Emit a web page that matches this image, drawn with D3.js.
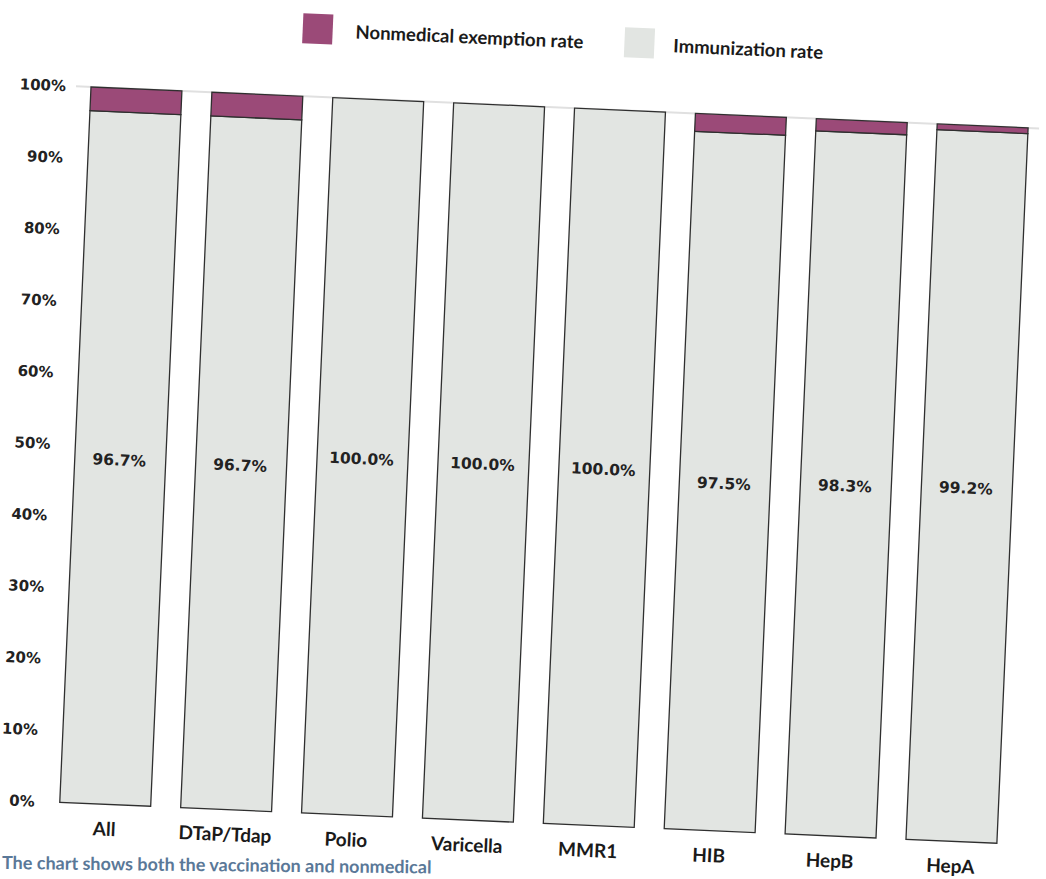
<!DOCTYPE html>
<html>
<head>
<meta charset="utf-8">
<script src="https://cdn.jsdelivr.net/npm/d3@7/dist/d3.min.js"></script>
<style>
  html, body { margin: 0; padding: 0; background: #ffffff; }
  svg { display: block; }
</style>
</head>
<body>
<svg id="chart" width="1046" height="879"></svg>
<script>
const categories = ["All", "DTaP/Tdap", "Polio", "Varicella", "MMR1", "HIB", "HepB", "HepA"];
const immunizationRate = [96.7, 96.7, 100.0, 100.0, 100.0, 97.5, 98.3, 99.2];
const exemptionRate = [3.3, 3.3, 0, 0, 0, 2.5, 1.7, 0.8];
const valueLabels = ["96.7%", "96.7%", "100.0%", "100.0%", "100.0%", "97.5%", "98.3%", "99.2%"];
const yTicks = [0, 10, 20, 30, 40, 50, 60, 70, 80, 90, 100];
const seriesNames = ["Nonmedical exemption rate", "Immunization rate"];
const captionText = "The chart shows both the vaccination and nonmedical";

const colors = { exemption: "#9b4a78", immunization: "#e2e5e2", stroke: "#2f2f2f" };

const svg = d3.select("#chart");
// scanned page is slightly rotated
const g = svg.append("g").attr("transform", "rotate(2.5, 91, 87)");

const x = d3.scaleBand().domain(categories).range([91, 1029]).paddingInner(0.248).paddingOuter(0);
const y = d3.scaleLinear().domain([0, 100]).range([803, 87]);

// faint gridline at 100%
g.append("line")
  .attr("x1", 76).attr("x2", 1040)
  .attr("y1", y(100)).attr("y2", y(100))
  .attr("stroke", "#e0e0e0").attr("stroke-width", 2);

// y axis labels
const yAxis = d3.axisLeft(y).tickValues(yTicks).tickSize(0).tickPadding(25).tickFormat(d => d + "%");
const ax = g.append("g").attr("transform", "translate(91,0)").call(yAxis);
ax.select(".domain").remove();
ax.selectAll("text")
  .attr("font-family", "DejaVu Sans, sans-serif")
  .attr("font-weight", "bold")
  .attr("font-size", 15)
  .attr("fill", "#222");

const data = categories.map((c, i) => ({ c, imm: immunizationRate[i], ex: exemptionRate[i], lab: valueLabels[i] }));

// immunization segments
g.selectAll("rect.imm").data(data).enter().append("rect")
  .attr("class", "imm")
  .attr("x", d => x(d.c))
  .attr("width", x.bandwidth())
  .attr("y", d => y(d.imm))
  .attr("height", d => y(0) - y(d.imm))
  .attr("fill", colors.immunization)
  .attr("stroke", colors.stroke)
  .attr("stroke-width", 1.3);

// exemption segments
g.selectAll("rect.ex").data(data).enter().append("rect")
  .attr("class", "ex")
  .attr("x", d => x(d.c))
  .attr("width", x.bandwidth())
  .attr("y", d => y(d.imm + d.ex))
  .attr("height", d => y(d.imm) - y(d.imm + d.ex))
  .attr("fill", colors.exemption)
  .attr("stroke", colors.stroke)
  .attr("stroke-width", 1.3);

// value labels
g.selectAll("text.val").data(data).enter().append("text")
  .attr("class", "val")
  .attr("x", d => x(d.c) + x.bandwidth() / 2 - 1)
  .attr("y", d => y(d.imm / 2) + 2)
  .attr("text-anchor", "middle")
  .attr("dominant-baseline", "central")
  .attr("font-family", "DejaVu Sans, sans-serif")
  .attr("font-weight", "bold")
  .attr("font-size", 15.5)
  .attr("fill", "#222")
  .text(d => d.lab);

// category labels
g.selectAll("text.cat").data(data).enter().append("text")
  .attr("class", "cat")
  .attr("x", d => x(d.c) + x.bandwidth() / 2)
  .attr("y", y(0) + 24)
  .attr("text-anchor", "middle")
  .attr("dominant-baseline", "central")
  .attr("font-family", "Lato, sans-serif")
  .attr("font-weight", "bold")
  .attr("font-size", 19)
  .attr("fill", "#1a1a1a")
  .text(d => d.c);

// legend
const legendItems = [
  { name: seriesNames[0], color: colors.exemption, sx: 300, tx: 353 },
  { name: seriesNames[1], color: colors.immunization, sx: 622, tx: 671 }
];
const lg = g.append("g");
legendItems.forEach(it => {
  lg.append("rect").attr("x", it.sx).attr("y", 4).attr("width", 30).attr("height", 30).attr("fill", it.color);
  lg.append("text")
    .attr("x", it.tx).attr("y", 20)
    .attr("dominant-baseline", "central")
    .attr("font-family", "Lato, sans-serif")
    .attr("font-weight", "bold")
    .attr("font-size", 18.5)
    .attr("fill", "#1a1a1a")
    .text(it.name);
});

// caption at bottom of the scanned page
svg.append("text")
  .attr("transform", "rotate(0.6, 2, 862)")
  .attr("x", 2).attr("y", 862)
  .attr("dominant-baseline", "central")
  .attr("font-family", "Lato, sans-serif")
  .attr("font-weight", "bold")
  .attr("font-size", 18)
  .attr("fill", "#5a7898")
  .text(captionText);
</script>
</body>
</html>
